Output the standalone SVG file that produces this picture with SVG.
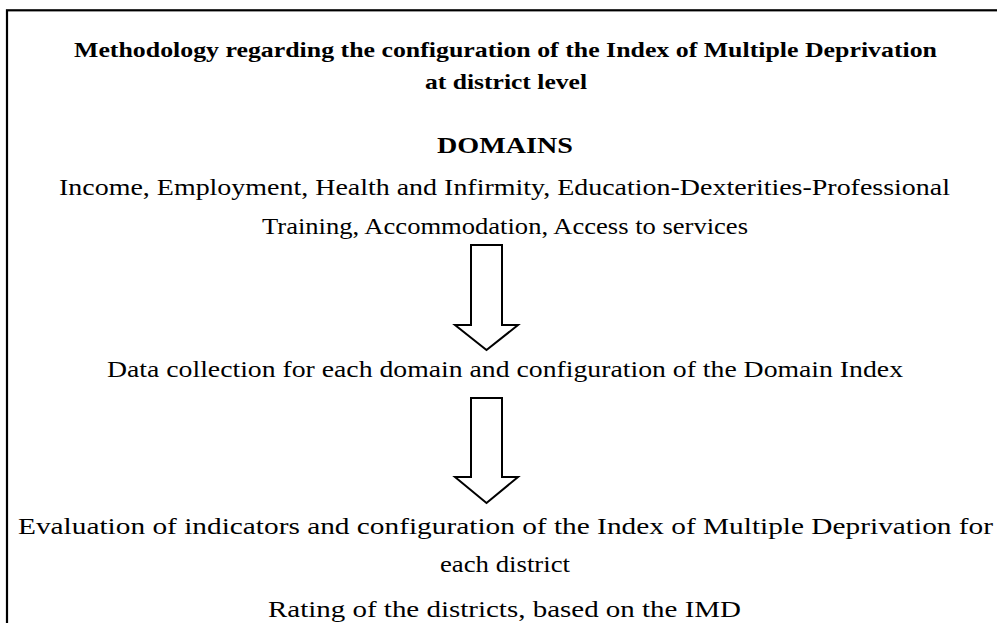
<svg xmlns="http://www.w3.org/2000/svg" width="997" height="623" viewBox="0 0 997 623">
  <style>
    .t { font-family: "Liberation Serif", "Times New Roman", serif; fill: #000; }
    .b { font-weight: bold; font-size: 21px; }
    .r { font-size: 24px; }
    .d { font-weight: bold; font-size: 24px; }
    .arrow { fill: #fff; stroke: #000; stroke-width: 2; stroke-linejoin: miter; }
  </style>
  <rect x="0" y="0" width="997" height="623" fill="#fff"/>
  <rect x="7" y="10.3" width="1000" height="640" fill="none" stroke="#000" stroke-width="2.2"/>

  <g id="title">
    <text class="t b" x="74" y="57" textLength="863" lengthAdjust="spacingAndGlyphs">Methodology regarding the configuration of the Index of Multiple Deprivation</text>
    <text class="t b" x="425" y="89" textLength="162" lengthAdjust="spacingAndGlyphs">at district level</text>
  </g>

  <g id="domains">
    <text class="t d" x="437" y="153" textLength="136" lengthAdjust="spacingAndGlyphs">DOMAINS</text>
    <text class="t r" x="59" y="195" textLength="891" lengthAdjust="spacingAndGlyphs">Income, Employment, Health and Infirmity, Education-Dexterities-Professional</text>
    <text class="t r" x="262" y="234" textLength="486" lengthAdjust="spacingAndGlyphs">Training, Accommodation, Access to services</text>
  </g>

  <g id="data-collection">
    <text class="t r" x="107" y="377" textLength="796" lengthAdjust="spacingAndGlyphs">Data collection for each domain and configuration of the Domain Index</text>
  </g>

  <g id="evaluation">
    <text class="t r" x="18" y="534" textLength="975" lengthAdjust="spacingAndGlyphs">Evaluation of indicators and configuration of the Index of Multiple Deprivation for</text>
    <text class="t r" x="440" y="572" textLength="130" lengthAdjust="spacingAndGlyphs">each district</text>
  </g>

  <g id="rating">
    <text class="t r" x="268" y="617" textLength="473" lengthAdjust="spacingAndGlyphs">Rating of the districts, based on the IMD</text>
  </g>

  <g id="connectors">
    <polygon class="arrow" points="471,245 502,245 502,325 518,325 486.5,350 455,325 471,325"/>
    <polygon class="arrow" points="471,398 502,398 502,477 518,477 486.5,503 455,477 471,477"/>
  </g>
</svg>
